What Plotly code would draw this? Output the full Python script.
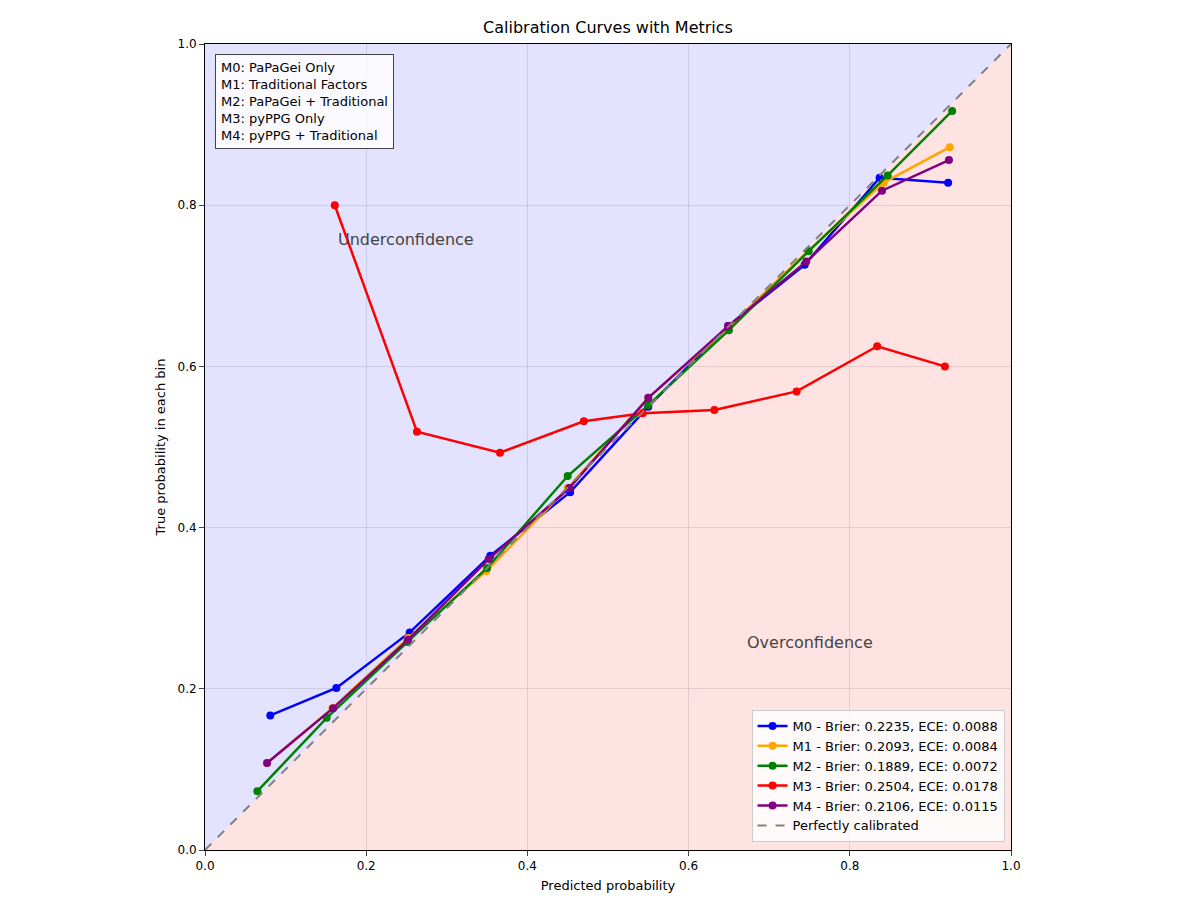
import plotly.graph_objects as go

# Calibration curves
m0_x = [0.081, 0.163, 0.254, 0.354, 0.453, 0.550, 0.649, 0.744, 0.837, 0.922]
m0_y = [0.167, 0.201, 0.270, 0.365, 0.444, 0.550, 0.650, 0.726, 0.834, 0.828]
m1_x = [0.077, 0.158, 0.252, 0.349, 0.450, 0.550, 0.649, 0.748, 0.842, 0.924]
m1_y = [0.108, 0.176, 0.263, 0.346, 0.449, 0.561, 0.648, 0.743, 0.828, 0.872]
m2_x = [0.065, 0.151, 0.251, 0.350, 0.450, 0.550, 0.650, 0.749, 0.847, 0.927]
m2_y = [0.073, 0.164, 0.258, 0.350, 0.464, 0.552, 0.645, 0.743, 0.837, 0.917]
m3_x = [0.161, 0.263, 0.366, 0.470, 0.543, 0.632, 0.734, 0.834, 0.918]
m3_y = [0.800, 0.519, 0.493, 0.532, 0.542, 0.546, 0.569, 0.625, 0.600]
m4_x = [0.077, 0.159, 0.252, 0.352, 0.452, 0.550, 0.649, 0.746, 0.840, 0.923]
m4_y = [0.108, 0.176, 0.261, 0.361, 0.449, 0.561, 0.650, 0.730, 0.818, 0.856]

names = ["M0 - Brier: 0.2235, ECE: 0.0088",
         "M1 - Brier: 0.2093, ECE: 0.0084",
         "M2 - Brier: 0.1889, ECE: 0.0072",
         "M3 - Brier: 0.2504, ECE: 0.0178",
         "M4 - Brier: 0.2106, ECE: 0.0115"]
colors = ["blue", "orange", "green", "red", "purple"]
series = [(m0_x, m0_y), (m1_x, m1_y), (m2_x, m2_y), (m3_x, m3_y), (m4_x, m4_y)]

fig = go.Figure()

for (xs, ys), name, col in zip(series, names, colors):
    fig.add_trace(go.Scatter(x=xs, y=ys, mode="lines+markers", name=name,
                             line=dict(color=col, width=2.5),
                             marker=dict(color=col, size=8)))

fig.add_trace(go.Scatter(x=[0, 1], y=[0, 1], mode="lines", name="Perfectly calibrated",
                         line=dict(color="gray", dash="dash", width=2)))

# shaded regions
fig.add_shape(type="path", path="M 0 0 L 0 1 L 1 1 Z", xref="x", yref="y",
              fillcolor="rgba(0,0,255,0.11)", line_width=0, layer="below")
fig.add_shape(type="path", path="M 0 0 L 1 0 L 1 1 Z", xref="x", yref="y",
              fillcolor="rgba(255,0,0,0.11)", line_width=0, layer="below")

fig.add_annotation(x=0.163, y=0.757, text="Underconfidence", showarrow=False,
                   xanchor="left", font=dict(size=16, color="#444"))
fig.add_annotation(x=0.67, y=0.258, text="Overconfidence", showarrow=False,
                   xanchor="left", font=dict(size=16, color="#444"))
fig.add_annotation(x=0.012, y=0.988, xref="x", yref="y", xanchor="left", yanchor="top",
                   text="M0: PaPaGei Only<br>M1: Traditional Factors<br>M2: PaPaGei + Traditional"
                        "<br>M3: pyPPG Only<br>M4: pyPPG + Traditional",
                   showarrow=False, align="left", bgcolor="rgba(255,255,255,0.8)",
                   bordercolor="#444", borderwidth=1, borderpad=5,
                   font=dict(size=13, color="black"))

axis = dict(range=[0, 1], tickvals=[0, 0.2, 0.4, 0.6, 0.8, 1.0],
            ticktext=["0.0", "0.2", "0.4", "0.6", "0.8", "1.0"],
            showgrid=True, gridcolor="rgba(0,0,0,0.1)", zeroline=False,
            showline=True, linecolor="black", mirror=True, ticks="outside",
            tickfont=dict(size=12, color="black"))

fig.update_layout(
    width=1200, height=900,
    title=dict(text="Calibration Curves with Metrics", x=0.5, y=0.985, yanchor="top",
               font=dict(size=16, color="black")),
    font=dict(family="DejaVu Sans", color="black"),
    plot_bgcolor="white", paper_bgcolor="white",
    margin=dict(l=197, r=197, t=36, b=58),
    xaxis=dict(axis, title=dict(text="Predicted probability", font=dict(size=13), standoff=8)),
    yaxis=dict(axis, title=dict(text="True probability in each bin", font=dict(size=13), standoff=8)),
    legend=dict(x=0.992, y=0.01, xanchor="right", yanchor="bottom",
                bgcolor="rgba(255,255,255,0.8)", bordercolor="#ccc", borderwidth=1,
                font=dict(size=13)),
)

fig.write_html("out.html")
